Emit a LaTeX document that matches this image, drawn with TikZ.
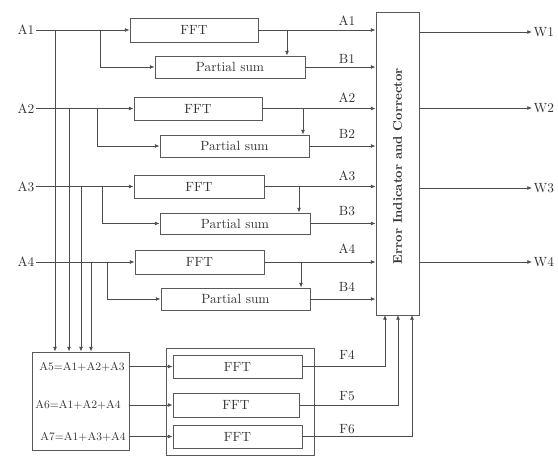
\documentclass[tikz,border=0pt]{standalone}
\usetikzlibrary{arrows.meta,fit,positioning}
\begin{document}
\begin{tikzpicture}[x=0.75pt,y=-0.75pt,
  line width=0.6pt,
  every node/.style={text=black!80, font=\fontsize{10}{12}\selectfont},
  box/.style={draw=black!65, inner sep=0pt, line width=0.7pt},
  wire/.style={draw=black!70},
  arr/.style={wire, -{Latex[length=3.5pt,width=3pt]}},
  lab/.style={inner sep=1pt},
  eq/.style={inner sep=0pt, font=\fontsize{8.5}{10}\selectfont}]
\useasboundingbox (0,0) rectangle (558,457);

% error box
\node[box, fit={(376,12)(419,315)}] (err) {};
\node[rotate=90, font=\bfseries\fontsize{9.4}{11}\selectfont] at ([yshift=-2pt]err.center) {Error Indicator and Corrector};

% rows: FFT boxes
\node[box, fit={(130,18)(258,42)}, label={center:FFT}] (f1) {};
\node[box, fit={(134,97)(262,120)}, label={center:FFT}] (f2) {};
\node[box, fit={(134,175)(264,198)}, label={center:FFT}] (f3) {};
\node[box, fit={(135,250)(264,274)}, label={center:FFT}] (f4) {};
% partial sums
\node[box, fit={(155,56)(305,78)}, label={center:Partial sum}] (p1) {};
\node[box, fit={(160,135)(309,157)}, label={center:Partial sum}] (p2) {};
\node[box, fit={(160,213)(310,234)}, label={center:Partial sum}] (p3) {};
\node[box, fit={(161,288)(310,310)}, label={center:Partial sum}] (p4) {};

% inputs
\node[lab, anchor=east] (a1) at (36,30) {A1};
\node[lab, anchor=east] (a2) at (36,108.5) {A2};
\node[lab, anchor=east] (a3) at (36,186.5) {A3};
\node[lab, anchor=east] (a4) at (36,262) {A4};

% sum box
\node[box, fit={(32,352)(129,450)}] (sum) {};
\node[eq] (e5) at (82,367) {A5=A1+A2+A3};
\node[eq] (e6) at (78,405) {A6=A1+A2+A4};
\node[eq] (e7) at (83,436.5) {A7=A1+A3+A4};

% lower FFT group
\node[box, fit={(166,348)(314,455)}] (grp) {};
\node[box, fit={(173,355)(302,378)}, label={center:FFT}] (g1) {};
\node[box, fit={(173,393)(299,417)}, label={center:FFT}] (g2) {};
\node[box, fit={(173,425)(302,448)}, label={center:FFT}] (g3) {};

% outputs
\node[lab, anchor=west] (w1) at (532,32) {W1};
\node[lab, anchor=west] (w2) at (532,108) {W2};
\node[lab, anchor=west] (w3) at (532,188) {W3};
\node[lab, anchor=west] (w4) at (532,262) {W4};

% coordinates
\coordinate (v1) at (55,30);
\coordinate (v2) at (69,108.5);
\coordinate (v3) at (81,186.5);
\coordinate (v4) at (91,262);
\coordinate (b1) at (100,30);
\coordinate (b2) at (97,108.5);
\coordinate (b3) at (102,186.5);
\coordinate (b4) at (107,262);
\coordinate (t1) at (287,30);
\coordinate (t2) at (303,108.5);
\coordinate (t3) at (299,186.5);
\coordinate (t4) at (301,262);
\coordinate (q1) at (385,315);
\coordinate (q2) at (398,315);
\coordinate (q3) at (412,315);

% input wiring
\foreach \i in {1,2,3,4}{
  \draw[arr] (a\i.east) -- (f\i.west |- a\i.east);
  \draw[arr] (b\i) |- (p\i.west);
  \draw[arr] (v\i) -- (v\i |- sum.north);
  \draw[arr] (t\i) -- (t\i |- p\i.north);
  \draw[arr] (f\i.east) -- (f\i.east -| err.west);
  \draw[arr] (p\i.east) -- (p\i.east -| err.west);
  \draw[arr] (err.east |- w\i.west) -- (w\i.west);
}

% labels on error inputs
\node[lab] at (347,21) {A1};
\node[lab] at (347,59) {B1};
\node[lab] at (347,98) {A2};
\node[lab] at (347,134) {B2};
\node[lab] at (347,176) {A3};
\node[lab] at (347,211) {B3};
\node[lab] at (347,249) {A4};
\node[lab] at (347,287) {B4};

% sum to FFTs
\draw[arr] (sum.east |- g1.west) -- (g1.west);
\draw[arr] (sum.east |- g2.west) -- (g2.west);
\draw[arr] (sum.east |- g3.west) -- (g3.west);

% FFT to error box
\draw[arr] (g1.east) -| (q1);
\draw[arr] (g2.east) -| (q2);
\draw[arr] (g3.east) -| (q3);
\node[lab] at (347,355) {F4};
\node[lab] at (347,396) {F5};
\node[lab] at (347,429) {F6};
\end{tikzpicture}
\end{document}
